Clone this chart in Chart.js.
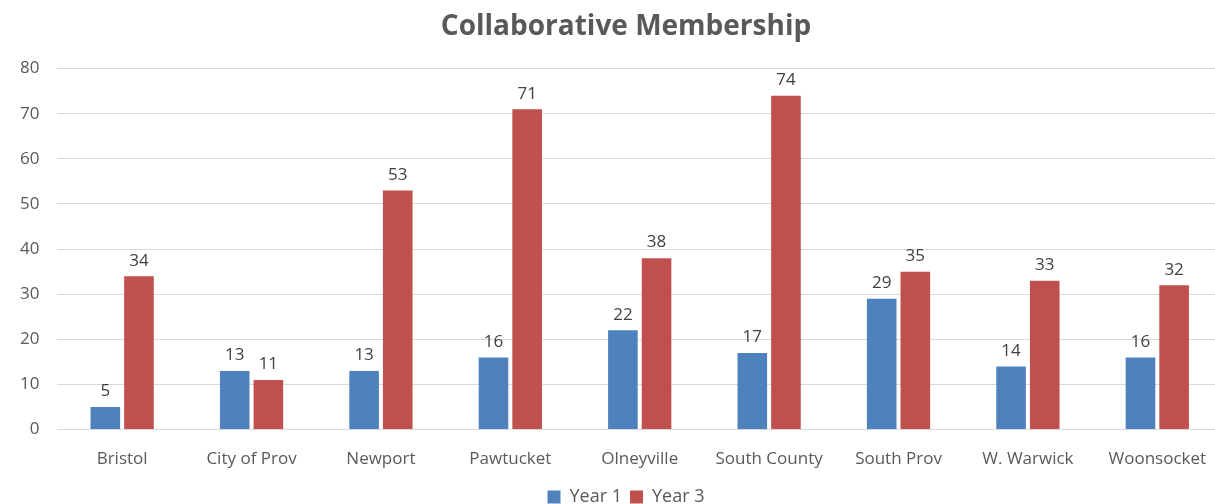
<!DOCTYPE html>
<html>
<head>
<meta charset="utf-8">
<script src="https://cdn.jsdelivr.net/npm/chart.js@4/dist/chart.umd.min.js"></script>
<style>
  html, body { margin: 0; padding: 0; background: #fff; overflow: hidden; }
  #wrap { width: 1250px; height: 504px; position: relative; }
</style>
</head>
<body>
<div id="wrap"><canvas id="chart"></canvas></div>
<script>
const labels = ['Bristol', 'City of Prov', 'Newport', 'Pawtucket', 'Olneyville', 'South County', 'South Prov', 'W. Warwick', 'Woonsocket'];
const year1 = [5, 13, 13, 16, 22, 17, 29, 14, 16];
const year3 = [34, 11, 53, 71, 38, 74, 35, 33, 32];

const FONT = "'Open Sans', 'Lato', sans-serif";
const GREY = '#595959';

// draws the value above each bar
const barValues = {
  id: 'barValues',
  afterDatasetsDraw(chart) {
    const ctx = chart.ctx;
    ctx.save();
    ctx.font = '17px ' + FONT;
    ctx.fillStyle = '#404040';
    ctx.textAlign = 'center';
    ctx.textBaseline = 'bottom';
    chart.data.datasets.forEach((ds, i) => {
      chart.getDatasetMeta(i).data.forEach((bar, j) => {
        ctx.fillText(ds.data[j], bar.x, bar.y - 7);
      });
    });
    ctx.restore();
  }
};

new Chart(document.getElementById('chart'), {
  type: 'bar',
  data: {
    labels: labels,
    datasets: [
      { label: 'Year 1', data: year1, backgroundColor: '#4f81bd' },
      { label: 'Year 3', data: year3, backgroundColor: '#c0504d' }
    ]
  },
  options: {
    responsive: true,
    maintainAspectRatio: false,
    animation: false,
    datasets: { bar: { categoryPercentage: 0.52, barPercentage: 0.88 } },
    layout: { padding: { left: 2, right: 0, top: 4, bottom: -12 } },
    plugins: {
      title: {
        display: true,
        text: 'Collaborative Membership',
        color: GREY,
        font: { family: FONT, size: 28, weight: 'bold' },
        padding: { top: 6, bottom: 25 }
      },
      legend: {
        position: 'bottom',
        labels: {
          color: GREY,
          font: { family: FONT, size: 18 },
          boxWidth: 13,
          boxHeight: 13,
          padding: 8
        }
      },
      tooltip: { enabled: false }
    },
    scales: {
      x: {
        grid: { display: false },
        border: { color: '#d9d9d9' },
        ticks: { color: GREY, font: { family: FONT, size: 17 }, padding: 11, maxRotation: 0 }
      },
      y: {
        min: 0,
        max: 80,
        ticks: { stepSize: 10, color: GREY, font: { family: FONT, size: 17 }, padding: 18 },
        grid: { color: '#d9d9d9', drawTicks: false },
        border: { display: false }
      },
      // empty spacer on the right so the plot runs past the window edge
      spacer: {
        type: 'linear',
        position: 'right',
        ticks: { display: false },
        grid: { display: false },
        border: { display: false },
        afterFit: s => { s.width = 28; }
      }
    }
  },
  plugins: [barValues]
});
</script>
</body>
</html>
